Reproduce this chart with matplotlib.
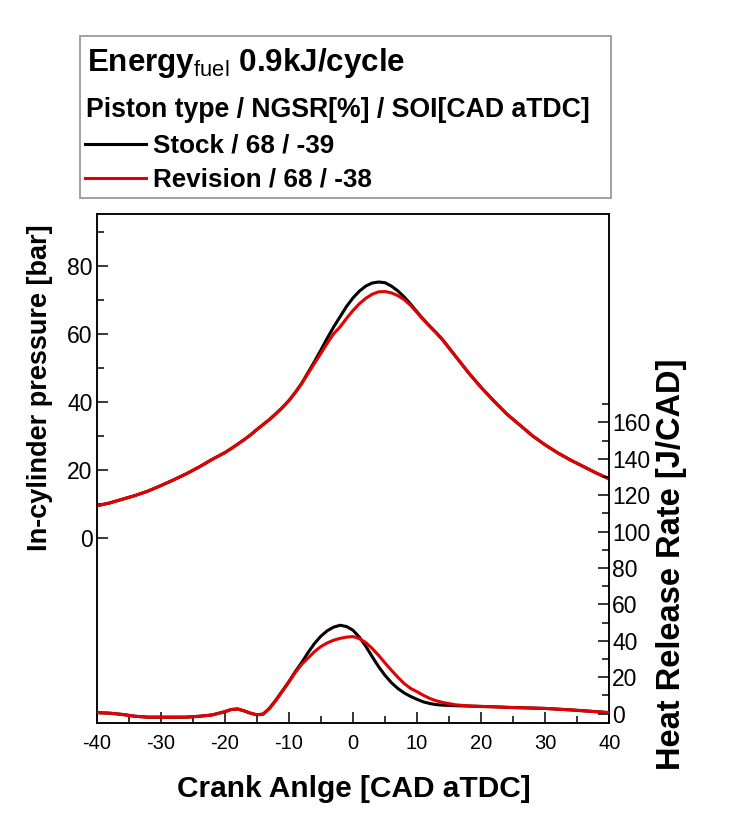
import numpy as np
import matplotlib
matplotlib.use("Agg")
from matplotlib import pyplot as plt
from matplotlib.lines import Line2D
from matplotlib.patches import Rectangle
from matplotlib.ticker import MultipleLocator, FixedLocator

plt.rcParams['font.family'] = ['Liberation Sans', 'DejaVu Sans']
plt.rcParams['mathtext.fontset'] = 'custom'
plt.rcParams['mathtext.rm'] = 'Liberation Sans'
plt.rcParams['mathtext.bf'] = 'Liberation Sans:bold'
plt.rcParams['axes.unicode_minus'] = False

# crank angle [CAD aTDC]
cad = [-40, -38, -36, -34, -32, -30, -28, -26, -24, -22, -20, -19, -18, -17, -16,
       -15, -14, -13, -12, -11, -10, -9, -8, -7, -6, -5, -4, -3, -2, -1, 0,
       1, 2, 3, 4, 5, 6, 7, 8, 9, 10, 11, 12, 13, 14, 16, 18, 20, 22, 24, 26,
       28, 30, 32, 34, 36, 38, 40]

# in-cylinder pressure [bar]
p_stock = [9.4, 10.2, 11.3, 12.4, 13.7, 15.3, 17.0, 18.8, 20.8, 23.0, 25.0, 26.2, 27.5, 28.8, 30.2,
           31.8, 33.3, 34.8, 36.5, 38.3, 40.3, 42.7, 45.4, 48.6, 51.8, 55.2, 58.7, 62.0, 65.0, 68.0, 70.5,
           72.5, 74.0, 74.9, 75.2, 75.0, 74.0, 72.6, 70.8, 68.7, 66.4, 64.2, 62.2, 60.3, 58.2, 53.4, 48.6,
           44.2, 40.2, 36.4, 33.2, 30.0, 27.3, 24.9, 22.8, 20.9, 19.0, 17.3]
p_rev = [9.4, 10.2, 11.3, 12.4, 13.7, 15.3, 17.0, 18.8, 20.8, 23.0, 25.0, 26.2, 27.5, 28.8, 30.2,
         31.8, 33.3, 34.8, 36.5, 38.3, 40.3, 42.7, 45.3, 48.3, 51.3, 54.2, 57.2, 60.0, 62.0, 64.5, 66.8,
         68.8, 70.4, 71.6, 72.3, 72.4, 72.0, 71.2, 70.0, 68.3, 66.2, 64.1, 62.1, 60.2, 58.2, 53.4, 48.6,
         44.2, 40.2, 36.4, 33.2, 30.0, 27.3, 24.9, 22.8, 20.9, 19.0, 17.3]

# heat release rate [J/CAD]
hrr_stock = [0.5, 0.2, -0.5, -1.5, -2.0, -2.0, -2.0, -2.0, -1.5, -0.8, 1.0, 2.2, 2.5, 1.5, 0.2,
             -0.7, -0.3, 3.0, 7.5, 12.5, 17.5, 23.0, 28.0, 33.5, 38.5, 42.5, 45.5, 47.5, 48.5, 47.8, 45.8,
             42.0, 37.0, 31.3, 25.8, 21.0, 17.0, 13.8, 11.3, 9.4, 7.8, 6.4, 5.5, 4.9, 4.6, 4.3, 4.1,
             3.9, 3.7, 3.4, 3.2, 3.0, 2.8, 2.4, 2.0, 1.5, 1.0, 0.5]
hrr_rev = [0.5, 0.2, -0.5, -1.5, -2.0, -2.0, -2.0, -2.0, -1.5, -0.8, 1.0, 2.2, 2.5, 1.5, 0.2,
           -0.7, -0.3, 2.8, 7.2, 12.2, 17.2, 22.5, 27.0, 30.5, 34.0, 36.8, 38.8, 40.3, 41.3, 42.0, 42.3,
           41.2, 39.0, 35.8, 32.0, 27.8, 23.8, 20.0, 16.5, 13.8, 12.0, 10.0, 8.3, 7.0, 6.1, 4.8, 4.2,
           3.9, 3.7, 3.4, 3.2, 3.0, 2.8, 2.4, 2.0, 1.5, 1.0, 0.5]

labels = ['Stock / 68 / -39', 'Revision / 68 / -38']
colors = ['black', '#e30000']

fig = plt.figure(figsize=(7.43, 8.18), dpi=100)
ax = fig.add_axes([0.130, 0.1167, 0.690, 0.6217])
ax2 = ax.twinx()

ax.plot(cad, p_stock, color=colors[0], lw=2.2, zorder=3)
ax.plot(cad, p_rev, color=colors[1], lw=2.2, zorder=4)
ax2.plot(cad, hrr_stock, color=colors[0], lw=2.2, zorder=3)
ax2.plot(cad, hrr_rev, color=colors[1], lw=2.2, zorder=4)

ax.set_xlim(-40, 40)
ax.set_ylim(-54.35, 95.2)
ax2.set_ylim(-4.95, 274.5)

ax.xaxis.set_major_locator(MultipleLocator(10))
ax.xaxis.set_minor_locator(MultipleLocator(5))
ax.yaxis.set_major_locator(FixedLocator([0, 20, 40, 60, 80]))
ax.yaxis.set_minor_locator(FixedLocator([10, 30, 50, 70, 90]))
ax2.yaxis.set_major_locator(FixedLocator([0, 20, 40, 60, 80, 100, 120, 140, 160]))
ax2.yaxis.set_minor_locator(FixedLocator([10, 30, 50, 70, 90, 110, 130, 150, 170]))

ax.tick_params(axis='x', which='both', direction='in', top=False, labelsize=14.5, pad=8)
ax.tick_params(axis='x', which='major', length=8, width=1.1)
ax.tick_params(axis='x', which='minor', length=5, width=1.1)
ax.tick_params(axis='y', which='both', direction='in', labelsize=16.5, pad=3)
ax.tick_params(axis='y', which='major', length=8, width=1.1)
ax.tick_params(axis='y', which='minor', length=5, width=1.1)
ax2.tick_params(axis='y', which='both', direction='in', labelsize=16.5, pad=2)
ax2.tick_params(axis='y', which='major', length=8, width=1.1)
ax2.tick_params(axis='y', which='minor', length=5, width=1.1)
for a in (ax, ax2):
    for s in a.spines.values():
        s.set_linewidth(1.1)

ax.set_xlabel('Crank Anlge [CAD aTDC]', fontsize=21.5, fontweight='bold')
ax.xaxis.set_label_coords(0.502, -0.104)
ax.set_ylabel('In-cylinder pressure [bar]', fontsize=19.5, fontweight='bold')
ax.yaxis.set_label_coords(-0.085, 0.658)
ax2.set_ylabel('Heat Release Rate [J/CAD]', fontsize=23.5, fontweight='bold')
ax2.yaxis.set_label_coords(1.092, 0.312)

# legend box with header
fig.add_artist(Rectangle((0.1077, 0.758), 0.7147, 0.198, transform=fig.transFigure,
                         fill=False, edgecolor='#9a9a9a', lw=1.3))
fig.text(0.117, 0.9132, r'Energy$_{\rm fuel}$ 0.9kJ/cycle', fontsize=22.6, fontweight='bold',
         va='baseline', ha='left')
fig.text(0.1157, 0.8566, 'Piston type / NGSR[%] / SOI[CAD aTDC]', fontsize=19.2,
         fontweight='bold', va='baseline', ha='left')
handles = [Line2D([], [], color=c, lw=2.2) for c in colors]
fig.legend(handles, labels, loc='upper left', bbox_to_anchor=(0.1144, 0.8362),
           frameon=False, prop={'weight': 'bold', 'size': 18.7}, handlelength=2.35,
           handletextpad=0.27, labelspacing=0.37, borderpad=0, borderaxespad=0)

fig.savefig('out.png', dpi=100)
